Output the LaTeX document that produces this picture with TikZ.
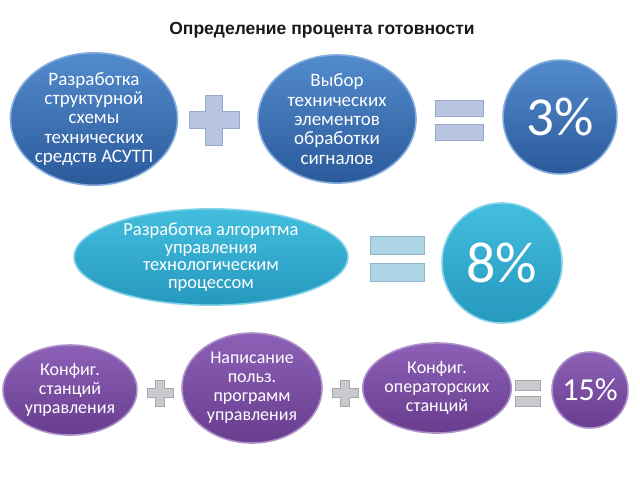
\documentclass[tikz,border=0pt]{standalone}
\usepackage{fontspec}
\setmainfont{Carlito}
\newfontfamily\titlefont{Liberation Sans}
\usetikzlibrary{shapes.geometric}
\definecolor{bluetop}{HTML}{528BCD}
\definecolor{bluebot}{HTML}{2B5A9B}
\definecolor{blueedge}{HTML}{86ADDB}
\definecolor{cyantop}{HTML}{43BEDE}
\definecolor{cyanbot}{HTML}{2598BE}
\definecolor{cyanedge}{HTML}{86D3EA}
\definecolor{purtop}{HTML}{8C60B6}
\definecolor{purbot}{HTML}{683D8E}
\definecolor{puredge}{HTML}{AB90C9}
\definecolor{plusblue}{HTML}{B7C5E2}
\definecolor{plusblueedge}{HTML}{97A8C9}
\definecolor{eqcyan}{HTML}{ACD5E6}
\definecolor{eqcyanedge}{HTML}{8DB6CA}
\definecolor{greysym}{HTML}{C9C9CE}
\definecolor{greysymedge}{HTML}{A6A6AC}
\tikzset{
  bubble/.style={ellipse, inner sep=0pt, align=center, text=white,
    font=\fontsize{19}{19.4}\selectfont, line width=1.6pt},
  bluebub/.style={bubble, top color=bluetop, bottom color=bluebot, draw=blueedge},
  cyanbub/.style={bubble, top color=cyantop, bottom color=cyanbot, draw=cyanedge},
  purbub/.style={bubble, top color=purtop, bottom color=purbot, draw=puredge},
  bluesym/.style={fill=plusblue, draw=plusblueedge, line width=0.8pt},
  cyansym/.style={fill=eqcyan, draw=eqcyanedge, line width=0.8pt},
  greysymb/.style={fill=greysym, draw=greysymedge, line width=0.6pt},
}
\newcommand\myplus[5]{%
  \begin{scope}[shift={(#1,#2)}]
  \path[#5] (-#4,-#3) -- (#4,-#3) -- (#4,-#4) -- (#3,-#4) -- (#3,#4) -- (#4,#4)
    -- (#4,#3) -- (-#4,#3) -- (-#4,#4) -- (-#3,#4) -- (-#3,-#4) -- (-#4,-#4) -- cycle;
  \end{scope}}
\newcommand\myequals[6]{%
  \path[#6] (#1,#3) rectangle (#2,#3+#5);
  \path[#6] (#1,#4) rectangle (#2,#4+#5);}
\begin{document}
\begin{tikzpicture}[x=1pt,y=-1pt]
\useasboundingbox (0,0) rectangle (640,480);
\fill[white] (0,0) rectangle (640,480);
\node[font=\titlefont\bfseries\fontsize{17.5}{20}\selectfont, text=black!90] (title) at (322,30) {Определение процента готовности};
% row 1
\node[bluebub, minimum width=162pt, minimum height=112pt] (e1) at (94,119)
  {Разработка\\структурной\\схемы\\технических\\средств АСУТП};
\myplus{214}{120}{25}{8.5}{bluesym}
\node[bluebub, minimum width=158pt, minimum height=112pt] (e2) at (337,119)
  {Выбор\\технических\\элементов\\обработки\\сигналов};
\myequals{435}{483}{100}{124}{16}{bluesym}
\node[bluebub, circle, minimum size=114pt, font=\fontsize{55}{60}\selectfont] (c1) at (560,117) {3\%};
% row 2
\node[cyanbub, minimum width=274pt, minimum height=78pt, font=\fontsize{18.5}{17.5}\selectfont] (e3) at (211,257)
  {Разработка алгоритма\\управления\\технологическим\\процессом};
\myequals{370}{424}{236}{263}{18}{cyansym}
\node[cyanbub, circle, minimum size=120pt, font=\fontsize{58}{62}\selectfont] (c2) at (502,263) {8\%};
% row 3
\node[purbub, minimum width=134pt, minimum height=90pt, font=\fontsize{18}{19}\selectfont] (e4) at (70,390)
  {Конфиг.\\станций\\управления};
\myplus{160}{393}{13}{4.5}{greysymb}
\node[purbub, minimum width=140pt, minimum height=110pt, font=\fontsize{18}{19}\selectfont] (e5) at (252,388)
  {Написание\\польз.\\программ\\управления};
\myplus{345}{393}{13}{4.5}{greysymb}
\node[purbub, minimum width=134pt, minimum height=90pt, font=\fontsize{18}{19}\selectfont] (e6) at (437,388)
  {Конфиг.\\операторских\\станций};
\myequals{515}{540}{380}{396}{10}{greysymb}
\node[purbub, circle, minimum size=76pt, font=\fontsize{32}{36}\selectfont] (c3) at (590,390) {15\%};
\end{tikzpicture}
\end{document}
